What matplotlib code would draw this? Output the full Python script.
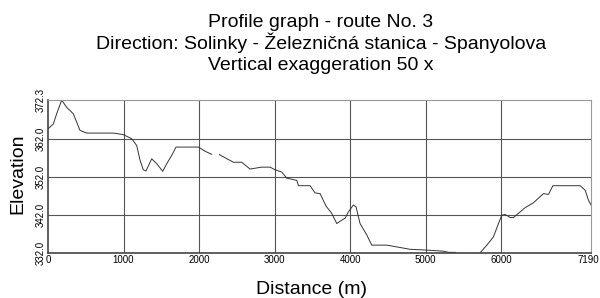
import numpy as np
import matplotlib.pyplot as plt
import matplotlib.transforms as mtransforms

plt.rcParams["font.family"] = ["Liberation Sans", "DejaVu Sans"]

# profile: distance (m) and elevation (m)
distance = [0, 70, 115, 181, 247, 335, 424, 512, 865, 997, 1108, 1175, 1219, 1262,
            1298, 1373, 1440, 1519, 1572, 1638, 1695, 1991, 2079, 2168, 2200,
            2269, 2454, 2565, 2675, 2830, 2940, 3007, 3095, 3162, 3294, 3316,
            3470, 3536, 3603, 3682, 3757, 3824, 3890, 3934, 3978, 4044, 4079,
            4132, 4221, 4287, 4486, 4795, 5007, 5236, 5302, 5391, 5420, 5700,
            5722, 5811, 5898, 5965, 6009, 6053, 6119, 6163, 6229, 6318, 6428,
            6560, 6627, 6685, 7046, 7113, 7156, 7190]
elevation = [364.7, 366.0, 368.7, 372.3, 370.4, 368.7, 364.3, 363.6, 363.6, 363.2,
             362.1, 360.3, 356.4, 353.9, 353.6, 356.8, 355.5, 353.5, 355.5, 357.7,
             359.9, 359.9, 358.8, 358.0, np.nan,
             357.9, 355.9, 355.9, 354.1, 354.6, 354.6, 353.9, 353.3, 351.7, 351.1,
             349.7, 349.7, 347.8, 347.6, 344.3, 342.4, 339.7, 340.6, 341.1, 342.8,
             344.6, 344.1, 339.7, 336.7, 334.0, 334.0, 332.9, 332.7, 332.4, 332.1,
             332.1, 331.5, 331.5,
             332.0, 334.0, 336.2, 339.7, 341.9, 342.1, 341.3, 341.3, 342.4, 343.9,
             345.2, 347.6, 347.4, 349.7, 349.7, 348.5, 345.9, 344.6]

x_ticks = [0, 1000, 2000, 3000, 4000, 5000, 6000, 7190]
y_ticks = [332.0, 342.0, 352.0, 362.0, 372.3]

title_lines = ["Profile graph - route No. 3",
               "Direction: Solinky - Železničná stanica - Spanyolova",
               "Vertical exaggeration 50 x"]

fig = plt.figure(figsize=(6, 2.98), dpi=100)
ax = fig.add_axes([0.08, 0.152, 0.905, 0.512])

ax.plot(distance, elevation, color="#333333", linewidth=0.7)

ax.set_xlim(0, 7190)
ax.set_ylim(332.0, 372.3)
ax.set_xticks(x_ticks)
ax.set_xticklabels([str(t) for t in x_ticks], fontsize=7)
ax.set_yticks(y_ticks)
ax.set_yticklabels([f"{t:.1f}" for t in y_ticks], fontsize=7, rotation=90, va="center")
ax.tick_params(length=0, pad=2)

# keep the last x label inside the figure
last = ax.get_xticklabels()[-1]
last.set_transform(last.get_transform() +
                   mtransforms.ScaledTranslation(-3 / 100, 0, fig.dpi_scale_trans))

for v in x_ticks[1:-1]:
    ax.axvline(v, color="#555555", linewidth=0.8, zorder=0)
for h in y_ticks[1:-1]:
    ax.axhline(h, color="#555555", linewidth=0.8, zorder=0)

for side in ["top", "right"]:
    ax.spines[side].set_color("#999999")
    ax.spines[side].set_linewidth(0.8)
for side in ["left", "bottom"]:
    ax.spines[side].set_color("#444444")
    ax.spines[side].set_linewidth(1.2)

fig.text(0.52, 0.012, "Distance (m)", ha="center", va="baseline", fontsize=14)
fig.text(0.03, 0.416, "Elevation", ha="center", va="center", rotation=90, fontsize=14)

for txt, yy in zip(title_lines, [0.911, 0.837, 0.765]):
    fig.text(0.535, yy, txt, ha="center", va="baseline", fontsize=14)

fig.savefig("out.png", dpi=100)
